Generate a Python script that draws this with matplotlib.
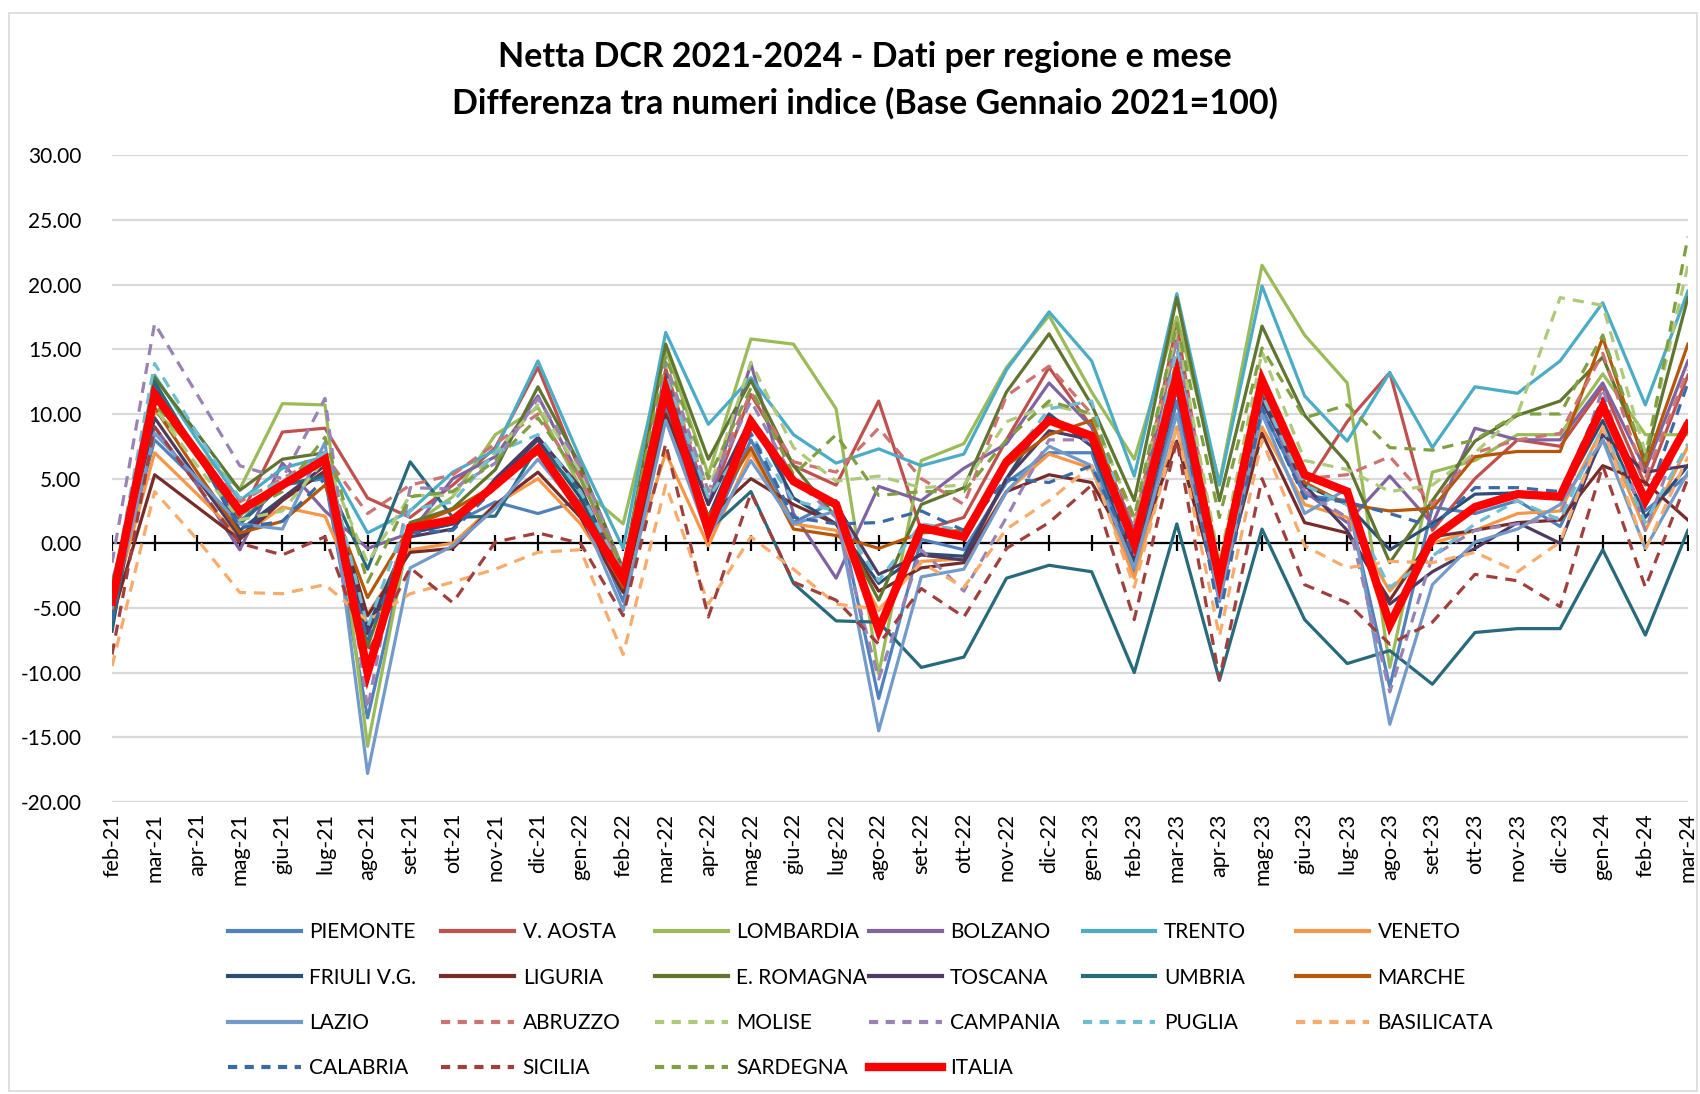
import numpy as np
import matplotlib
matplotlib.use("Agg")
import matplotlib.pyplot as plt
from matplotlib.lines import Line2D
from matplotlib.patches import Rectangle

plt.rcParams['font.family'] = ['Lato', 'DejaVu Sans']

# mesi (asse x)
mesi = ['feb-21', 'mar-21', 'apr-21', 'mag-21', 'giu-21', 'lug-21', 'ago-21', 'set-21', 'ott-21',
        'nov-21', 'dic-21', 'gen-22', 'feb-22', 'mar-22', 'apr-22', 'mag-22', 'giu-22', 'lug-22',
        'ago-22', 'set-22', 'ott-22', 'nov-22', 'dic-22', 'gen-23', 'feb-23', 'mar-23', 'apr-23',
        'mag-23', 'giu-23', 'lug-23', 'ago-23', 'set-23', 'ott-23', 'nov-23', 'dic-23', 'gen-24',
        'feb-24', 'mar-24']

# differenze numeri indice per regione
piemonte = [-4.5, 8.0, 4.8, 1.7, 4.5, 5.0, -13.5, 0.8, 1.5, 3.2, 2.3, 3.3, -4.5, 10.5, 0.5, 8.0, 1.6, 3.3, -12.0, 0.3,
            -0.5, 4.7, 7.0, 7.0, -2.4, 11.0, -4.5, 10.4, 3.7, 3.3, -11.1, 2.8, 2.3, 3.3, 1.3, 8.0, 2.5, 5.3]
v_aosta = [-3.5, 11.5, 6.8, 2.0, 8.6, 8.9, 3.5, 2.0, 4.5, 7.4, 13.6, 5.5, -3.0, 13.5, 3.0, 11.5, 6.0, 4.5, 11.0, 1.0,
           2.0, 8.0, 13.6, 9.0, 1.0, 17.0, -3.5, 11.5, 4.3, 9.4, 13.2, 1.0, 5.0, 8.0, 7.5, 12.1, 4.5, 13.0]
lombardia = [-5.5, 10.2, 7.2, 4.2, 10.8, 10.7, -15.7, 1.3, 3.6, 8.4, 10.5, 4.3, 1.5, 15.0, 5.3, 15.8, 15.4, 10.4, -10.1,
             6.4, 7.7, 13.6, 17.6, 11.7, 6.5, 17.5, 4.7, 21.5, 16.1, 12.4, -9.6, 5.5, 6.4, 8.4, 8.4, 13.1, 8.4, 8.4]
bolzano = [-3.0, 9.0, 4.5, -0.5, 6.2, 2.5, -0.4, 0.8, 5.0, 6.7, 11.4, 5.0, -2.0, 13.0, 3.0, 13.9, 2.3, -2.7, 4.4, 3.3,
           5.8, 7.7, 12.4, 9.0, 1.0, 15.8, -3.0, 11.2, 4.0, 1.6, 5.2, 1.5, 8.9, 8.0, 8.0, 12.4, 5.7, 14.1]
trento = [-4.0, 13.0, 8.0, 3.3, 5.8, 6.7, 0.8, 2.5, 5.5, 7.2, 14.1, 6.5, -0.4, 16.3, 9.2, 12.8, 8.4, 6.2, 7.3, 6.0,
          6.9, 13.4, 17.9, 14.1, 5.2, 19.3, 4.5, 19.9, 11.4, 7.9, 13.2, 7.4, 12.1, 11.6, 14.1, 18.6, 10.7, 19.5]
veneto = [-5.0, 7.0, 3.8, 0.5, 2.8, 2.1, -5.5, -0.5, 0.0, 3.0, 5.0, 1.5, -3.5, 7.0, -0.2, 7.0, 1.5, 1.0, -5.2, -1.4,
          -1.2, 4.0, 6.9, 5.8, -2.7, 9.0, -4.0, 9.0, 3.0, 2.0, -3.7, 0.0, 1.0, 2.3, 2.5, 8.9, 1.0, 7.5]
friuli = [-6.8, 12.3, 7.0, 1.0, 3.5, 5.5, -6.5, 0.8, 1.5, 4.7, 8.0, 3.5, -3.5, 11.0, 2.0, 9.7, 3.5, 1.5, -3.1, -0.8,
          -1.0, 5.0, 10.0, 7.5, -1.5, 12.0, -4.0, 11.5, 4.5, 3.0, -0.5, 1.5, 3.8, 3.9, 3.5, 9.5, 2.0, 6.0]
liguria = [-5.8, 5.3, 2.8, 0.3, 3.3, 5.6, -5.6, -0.7, -0.4, 3.0, 5.5, 2.0, -3.8, 10.0, 2.0, 5.0, 3.0, 1.5, -3.7, -1.9,
           -1.5, 4.0, 5.3, 4.7, -1.0, 7.9, -4.0, 8.5, 1.6, 0.8, -4.4, 0.5, 1.0, 1.6, 1.8, 6.0, 4.7, 1.8]
e_romagna = [-5.2, 12.8, 8.5, 4.1, 6.5, 7.0, -8.0, 1.6, 2.7, 5.7, 12.1, 6.0, -2.0, 15.4, 6.5, 12.6, 6.0, 2.0, -4.4, 3.0,
             4.3, 11.7, 16.2, 10.7, 3.3, 19.0, 3.3, 16.8, 9.9, 6.2, -1.5, 3.3, 7.9, 9.9, 11.0, 14.4, 6.5, 19.0]
toscana = [-4.8, 9.7, 5.0, 0.5, 3.5, 6.0, -7.0, 0.5, 1.1, 5.0, 8.2, 4.3, -3.0, 11.5, 3.0, 9.7, 5.0, 3.0, -2.4, -0.9,
           -1.3, 5.0, 8.7, 8.0, -1.0, 12.0, -3.5, 11.0, 4.5, 1.0, -4.7, -2.2, -0.4, 1.6, 0.0, 8.4, 5.5, 6.0]
umbria = [-6.5, 12.5, 7.0, 1.5, 4.5, 5.2, -2.0, 6.3, 2.0, 2.1, 7.5, 4.0, -3.0, 13.0, 1.0, 4.0, -3.1, -6.0, -6.1, -9.6,
          -8.8, -2.7, -1.7, -2.2, -10.0, 1.5, -10.6, 1.1, -5.9, -9.3, -8.3, -10.9, -6.9, -6.6, -6.6, -0.5, -7.1, 1.0]
marche = [-5.5, 10.5, 5.5, 0.8, 1.7, 4.5, -4.2, 1.3, 2.6, 4.5, 7.5, 3.0, -3.4, 11.5, 2.0, 7.4, 1.1, 0.6, -0.4, 0.8,
          1.0, 6.0, 8.4, 9.5, 0.5, 14.2, -2.5, 12.0, 4.7, 3.0, 2.5, 2.7, 6.7, 7.1, 7.1, 15.9, 6.0, 15.4]
lazio = [-5.0, 8.5, 5.0, 1.5, 1.1, 7.8, -17.8, -1.9, -0.2, 2.7, 6.5, 2.5, -5.2, 9.5, 0.5, 6.4, 1.5, 2.5, -14.5, -2.6,
         -2.0, 4.0, 7.5, 6.0, -1.9, 10.0, -4.4, 10.0, 2.3, 4.2, -14.0, -3.2, 0.1, 1.1, 3.0, 8.0, -0.4, 5.5]
abruzzo = [-4.0, 11.0, 7.0, 3.2, 5.0, 6.8, 2.3, 4.5, 5.3, 7.7, 10.0, 5.0, -2.5, 13.0, 4.0, 11.7, 6.3, 5.5, 8.9, 5.0,
           3.0, 11.4, 13.7, 10.0, 1.5, 16.0, -2.0, 12.0, 5.0, 5.3, 6.7, 3.0, 7.0, 8.0, 8.5, 14.7, 5.0, 13.4]
molise = [-3.5, 10.5, 6.0, 1.8, 2.5, 6.5, -1.5, 3.7, 3.7, 7.0, 10.7, 5.5, -2.0, 14.0, 4.0, 14.0, 7.4, 4.8, 5.2, 4.3,
          4.5, 9.4, 10.7, 10.0, 2.0, 16.4, -1.5, 14.8, 6.4, 5.7, 4.0, 4.5, 7.0, 10.0, 19.0, 18.4, 7.0, 21.5]
campania = [-1.5, 17.0, 11.5, 6.0, 5.0, 11.2, -12.8, 4.3, 4.2, 6.2, 11.2, 6.0, -2.0, 14.0, 4.0, 11.0, 5.0, 2.0, -10.5,
            -0.5, -3.7, 2.0, 8.0, 8.0, -1.0, 15.5, -3.5, 11.5, 4.0, 2.0, -11.5, -1.0, 1.0, 1.5, 2.0, 12.0, 1.0, 9.9]
puglia = [-3.8, 13.9, 8.5, 3.5, 4.8, 7.0, -6.5, 2.6, 3.2, 7.0, 8.4, 4.0, -2.5, 13.0, 3.5, 8.4, 3.3, 2.5, -2.9, 1.5,
          1.0, 6.0, 10.4, 11.0, -0.5, 15.0, -4.0, 11.5, 4.5, 3.0, -3.4, -1.0, 1.5, 3.3, 1.8, 9.0, 1.6, 7.7]
basilicata = [-9.5, 4.0, 0.3, -3.8, -3.9, -3.2, -6.0, -3.9, -3.0, -2.0, -0.7, -0.5, -8.6, 4.5, -4.7, 0.5, -2.0, -4.7,
              -5.1, -1.5, -3.4, 1.1, 3.3, 6.0, -3.4, 9.0, -7.2, 8.0, -0.2, -1.9, -1.4, -1.5, -0.7, -2.2, 0.1, 9.0,
              -0.5, 6.7]
calabria = [-6.0, 12.0, 7.0, 1.2, 1.7, 5.0, -7.5, 0.8, 1.0, 4.3, 7.0, 3.0, -3.0, 12.0, 1.5, 8.5, 2.0, 1.5, 1.6, 2.5,
            1.0, 5.0, 4.7, 6.0, -1.0, 12.0, -5.7, 10.5, 3.5, 3.2, 2.3, 1.3, 4.3, 4.3, 4.0, 11.2, 3.0, 12.4]
sicilia = [-8.6, 9.0, 4.5, 0.0, -0.9, 0.5, -8.5, -1.9, -4.6, 0.1, 0.8, 0.0, -5.6, 7.7, -5.7, 3.9, -3.0, -4.4, -7.8,
           -3.5, -5.7, -0.4, 1.6, 4.5, -5.9, 8.0, -10.5, 5.0, -3.2, -4.6, -7.8, -6.1, -2.4, -2.9, -4.9, 6.0, -3.4, 5.0]
sardegna = [-3.2, 10.8, 7.0, 2.2, 4.0, 8.2, -3.0, 3.6, 4.0, 6.4, 9.7, 5.0, -2.0, 14.5, 5.0, 12.0, 5.3, 8.4, 3.7, 4.0,
            4.0, 8.0, 11.0, 10.0, 2.0, 17.0, 2.0, 15.1, 9.7, 10.7, 7.4, 7.2, 8.0, 10.0, 10.0, 16.1, 6.4, 23.7]
italia = [-4.5, 11.5, 7.0, 2.5, 4.5, 6.5, -10.0, 1.2, 1.8, 4.5, 7.3, 2.5, -2.7, 11.9, 1.0, 9.4, 4.8, 3.0, -6.7, 1.2,
          0.5, 6.3, 9.5, 8.3, 0.0, 13.0, -2.8, 12.6, 5.3, 4.0, -6.3, 0.4, 2.8, 3.8, 3.6, 10.6, 3.3, 9.2]

serie = [
    ('PIEMONTE', piemonte, '#4F81BD', '-'),
    ('V. AOSTA', v_aosta, '#C0504D', '-'),
    ('LOMBARDIA', lombardia, '#9BBB59', '-'),
    ('BOLZANO', bolzano, '#8064A2', '-'),
    ('TRENTO', trento, '#4BACC6', '-'),
    ('VENETO', veneto, '#F79646', '-'),
    ('FRIULI V.G.', friuli, '#2C4D75', '-'),
    ('LIGURIA', liguria, '#772C2A', '-'),
    ('E. ROMAGNA', e_romagna, '#5F7530', '-'),
    ('TOSCANA', toscana, '#4D3B62', '-'),
    ('UMBRIA', umbria, '#276A7C', '-'),
    ('MARCHE', marche, '#B65708', '-'),
    ('LAZIO', lazio, '#729ACA', '-'),
    ('ABRUZZO', abruzzo, '#CD7371', '--'),
    ('MOLISE', molise, '#AFC97A', '--'),
    ('CAMPANIA', campania, '#9983B5', '--'),
    ('PUGLIA', puglia, '#6FBDD1', '--'),
    ('BASILICATA', basilicata, '#F9AB6B', '--'),
    ('CALABRIA', calabria, '#3A6AA6', '--'),
    ('SICILIA', sicilia, '#A0403D', '--'),
    ('SARDEGNA', sardegna, '#7F9F40', '--'),
    ('ITALIA', italia, '#FF0000', '-'),
]

x = np.arange(len(mesi))

fig = plt.figure(figsize=(17, 10.94), dpi=100)
ax = fig.add_axes([0.0659, 0.267, 0.927, 0.591])

handles = []
for nome, vals, col, ls in serie:
    if nome == 'ITALIA':
        ln, = ax.plot(x, vals, color=col, lw=6.0, solid_joinstyle='miter', zorder=5)
    elif ls == '--':
        ln, = ax.plot(x, vals, color=col, lw=2.3, dashes=(3.5, 2.5), zorder=3)
    else:
        ln, = ax.plot(x, vals, color=col, lw=2.3, zorder=3)
    handles.append(ln)

# asse orizzontale a quota zero con tacche
ax.axhline(0, color='black', lw=1.6, zorder=2)
ax.plot(x, np.zeros(len(x)), linestyle='none', marker='|', markersize=11, mew=1.6, color='black', zorder=2)

ax.set_xlim(0, len(mesi) - 1)
ax.set_ylim(-20, 30)
ax.set_yticks(np.arange(-20, 31, 5))
ax.set_yticklabels([f'{v:.2f}' for v in np.arange(-20, 31, 5)])
ax.set_xticks(x)
ax.set_xticklabels(mesi, rotation=90)
ax.tick_params(axis='x', length=0, pad=8, labelsize=15.5)
ax.tick_params(axis='y', length=0, pad=22, labelsize=15)
ax.grid(axis='y', color='#D9D9D9', lw=1.6)
ax.set_axisbelow(True)
for s in ax.spines.values():
    s.set_visible(False)

fig.text(0.509, 0.948, 'Netta DCR 2021-2024 - Dati per regione e mese', ha='center', va='center',
         fontsize=24.5, fontweight='bold')
fig.text(0.509, 0.906, 'Differenza tra numeri indice (Base Gennaio 2021=100)', ha='center', va='center',
         fontsize=24.5, fontweight='bold')

# legenda: 6 colonne, riempita per righe come in Excel
labels = [s[0] for s in serie]
ncol = 6
pitch = 0.1257
for c in range(ncol):
    idx = [r * ncol + c for r in range(4) if r * ncol + c < len(serie)]
    hs = []
    for i in idx:
        h = handles[i]
        lw = 6.0 if labels[i] == 'ITALIA' else 3.0
        if serie[i][3] == '--':
            hs.append(Line2D([], [], color=h.get_color(), lw=lw, dashes=(2.2, 1.8)))
        else:
            hs.append(Line2D([], [], color=h.get_color(), lw=lw))
    fig.legend(hs, [labels[i] for i in idx], loc='upper left', bbox_to_anchor=(0.134 + c * pitch, 0.157),
               frameon=False, fontsize=15, handlelength=3.5, handletextpad=0.4, labelspacing=1.22,
               borderpad=0, borderaxespad=0)

fig.patches.append(Rectangle((0.005, 0.003), 0.993, 0.985, transform=fig.transFigure,
                             fill=False, edgecolor='#D9D9D9', lw=1.2))

fig.savefig('out.png', dpi=100)
